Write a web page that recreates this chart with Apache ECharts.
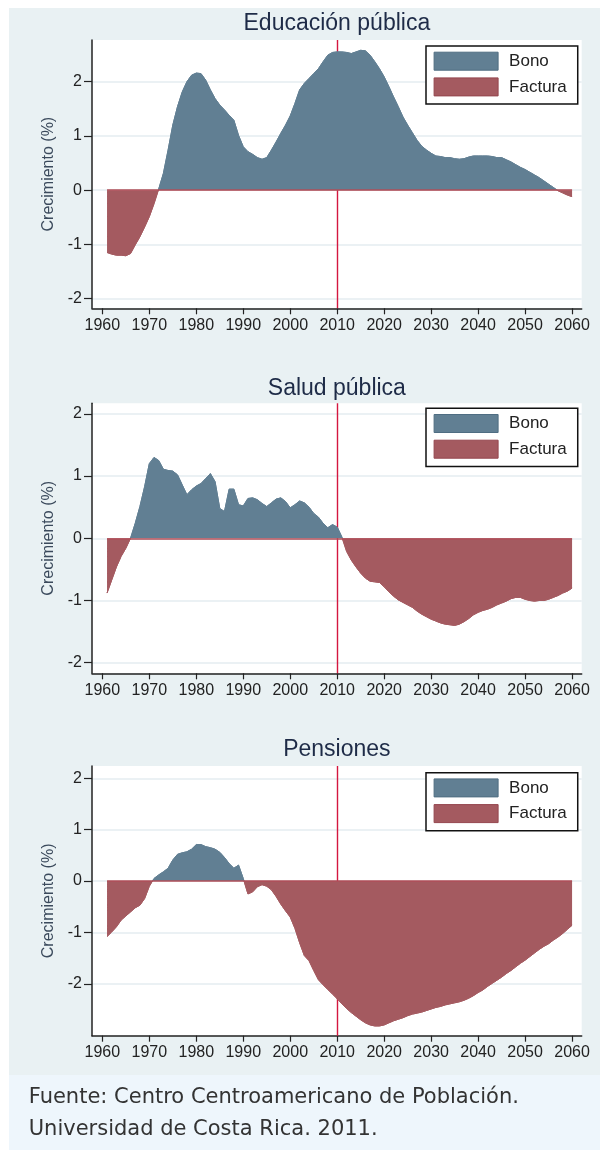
<!DOCTYPE html>
<html>
<head>
<meta charset="utf-8">
<script src="https://cdn.jsdelivr.net/npm/echarts@6/dist/echarts.min.js"></script>
<style>
html,body{margin:0;padding:0;background:#ffffff;}
#chart{width:600px;height:1150px;}
</style>
</head>
<body>
<div id="chart"></div>
<script>
// ---------------- DATA ----------------
const years = [
  1961,1962,1963,1964,1965,1966,1967,1968,1969,1970,
  1971,1972,1973,1974,1975,1976,1977,1978,1979,1980,
  1981,1982,1983,1984,1985,1986,1987,1988,1989,1990,
  1991,1992,1993,1994,1995,1996,1997,1998,1999,2000,
  2001,2002,2003,2004,2005,2006,2007,2008,2009,2010,
  2011,2012,2013,2014,2015,2016,2017,2018,2019,2020,
  2021,2022,2023,2024,2025,2026,2027,2028,2029,2030,
  2031,2032,2033,2034,2035,2036,2037,2038,2039,2040,
  2041,2042,2043,2044,2045,2046,2047,2048,2049,2050,
  2051,2052,2053,2054,2055,2056,2057,2058,2059,2060
];

const educacionPublica = [
  -1.15,-1.18,-1.20,-1.20,-1.21,-1.17,-1.01,-0.86,-0.68,-0.49,
  -0.25,0.02,0.31,0.74,1.20,1.54,1.81,2.00,2.12,2.16,
  2.15,2.03,1.85,1.69,1.57,1.48,1.38,1.29,1.01,0.80,
  0.71,0.66,0.60,0.57,0.60,0.74,0.89,1.05,1.20,1.37,
  1.60,1.85,1.97,2.06,2.15,2.24,2.37,2.49,2.54,2.55,
  2.55,2.54,2.52,2.55,2.58,2.57,2.49,2.37,2.24,2.09,
  1.91,1.72,1.54,1.35,1.20,1.06,0.92,0.81,0.74,0.68,
  0.63,0.62,0.60,0.60,0.58,0.57,0.58,0.61,0.63,0.63,
  0.63,0.63,0.62,0.60,0.60,0.56,0.52,0.47,0.42,0.38,
  0.33,0.28,0.23,0.17,0.11,0.05,-0.01,-0.05,-0.09,-0.12
];

const saludPublica = [
  -0.88,-0.67,-0.46,-0.29,-0.16,0.00,0.24,0.51,0.83,1.20,
  1.30,1.25,1.11,1.09,1.08,1.02,0.86,0.70,0.78,0.84,
  0.88,0.96,1.04,0.91,0.48,0.43,0.79,0.79,0.54,0.52,
  0.64,0.65,0.62,0.56,0.51,0.57,0.63,0.65,0.59,0.49,
  0.54,0.60,0.57,0.50,0.40,0.34,0.24,0.17,0.22,0.18,
  0.02,-0.21,-0.35,-0.46,-0.56,-0.64,-0.69,-0.70,-0.71,-0.78,
  -0.86,-0.93,-0.99,-1.03,-1.07,-1.11,-1.17,-1.22,-1.26,-1.30,
  -1.33,-1.36,-1.38,-1.39,-1.40,-1.38,-1.34,-1.29,-1.23,-1.19,
  -1.16,-1.14,-1.11,-1.07,-1.04,-1.01,-0.97,-0.95,-0.95,-0.98,
  -1.00,-1.01,-1.00,-1.00,-0.98,-0.95,-0.92,-0.88,-0.85,-0.80
];

const pensiones = [
  -1.08,-0.99,-0.89,-0.76,-0.68,-0.60,-0.52,-0.47,-0.34,-0.10,
  0.05,0.12,0.18,0.25,0.41,0.52,0.55,0.57,0.62,0.71,
  0.71,0.67,0.65,0.62,0.56,0.46,0.34,0.25,0.31,0.05,
  -0.25,-0.21,-0.11,-0.07,-0.10,-0.17,-0.30,-0.45,-0.58,-0.70,
  -0.92,-1.20,-1.45,-1.55,-1.74,-1.92,-2.02,-2.11,-2.20,-2.29,
  -2.39,-2.48,-2.56,-2.63,-2.70,-2.76,-2.80,-2.82,-2.82,-2.80,
  -2.76,-2.72,-2.69,-2.66,-2.62,-2.59,-2.57,-2.55,-2.52,-2.49,
  -2.46,-2.44,-2.41,-2.39,-2.37,-2.35,-2.32,-2.28,-2.23,-2.17,
  -2.12,-2.05,-1.99,-1.93,-1.87,-1.80,-1.74,-1.67,-1.60,-1.54,
  -1.47,-1.40,-1.33,-1.27,-1.22,-1.15,-1.09,-1.02,-0.94,-0.86
];

const panelTitles = ['Educación pública', 'Salud pública', 'Pensiones'];
const legendNames = ['Bono', 'Factura'];
const xTickValues = [1960,1970,1980,1990,2000,2010,2020,2030,2040,2050,2060];
const yTickValues = [-2,-1,0,1,2];
const yAxisTitle = 'Crecimiento (%)';
const referenceYear = 2010;
const footerLines = ['Fuente: Centro Centroamericano de Población.', 'Universidad de Costa Rica. 2011.'];

// ---------------- STYLE / LAYOUT ----------------
const BONO = '#617f93';
const BONO_EDGE = '#4f6d82';
const FACTURA = '#a45a60';
const FACTURA_EDGE = '#94464e';
const REFLINE = '#d4173f';
const ZEROLINE = '#b04e58';
const AXIS = '#222222';
const GRIDLINE = '#e4edf0';
const FONT = '"Liberation Sans", Arial, sans-serif';

const panelValues = [educacionPublica, saludPublica, pensiones];
const layout = [
  {top: 40,    height: 268.3, yMin: -2.18, yMax: 2.77, titleY: 24,    legendTop: 46},
  {top: 403.3, height: 270,   yMin: -2.17, yMax: 2.17, titleY: 388.3, legendTop: 408.3},
  {top: 766,   height: 269.7, yMin: -3.01, yMax: 2.24, titleY: 750,   legendTop: 772.7}
];
const gridLeft = 92, gridRight = 18.3;
const xMin = 1957.8, xMax = 2062.05;

const grids = [], xAxes = [], yAxes = [], series = [], legends = [], graphics = [];
const mainSeriesIndex = [];

graphics.push({type:'rect', shape:{x:0, y:0, width:9, height:1150}, style:{fill:'#ffffff'}, silent:true});
graphics.push({type:'rect', shape:{x:0, y:0, width:600, height:8}, style:{fill:'#ffffff'}, silent:true});
graphics.push({type:'rect', shape:{x:9, y:1075, width:591, height:75}, style:{fill:'#eef6fc'}, silent:true});

layout.forEach((p, i) => {
  grids.push({left: gridLeft, right: gridRight, top: p.top, height: p.height,
    show: true, backgroundColor: '#ffffff', borderWidth: 0, containLabel: false});

  xAxes.push({
    gridIndex: i, type: 'value', min: xMin, max: xMax,
    axisLine: {show: true, onZero: false, lineStyle: {color: AXIS, width: 1.5}},
    axisTick: {show: true, customValues: xTickValues, length: 6, lineStyle: {color: AXIS, width: 1.2}},
    axisLabel: {show: true, customValues: xTickValues, fontSize: 16, color: AXIS, margin: 9, fontFamily: FONT,
      formatter: v => String(v)},
    splitLine: {show: false}
  });

  yAxes.push({
    gridIndex: i, type: 'value', min: p.yMin, max: p.yMax,
    name: yAxisTitle, nameLocation: 'middle', nameGap: 24,
    nameTextStyle: {fontSize: 16, color: '#3b4a5c', fontFamily: FONT},
    axisLine: {show: true, onZero: false, lineStyle: {color: AXIS, width: 1.5}},
    axisTick: {show: true, customValues: yTickValues, length: 8, lineStyle: {color: AXIS, width: 1.2}},
    axisLabel: {show: true, customValues: yTickValues, fontSize: 16, color: AXIS, margin: 10, fontFamily: FONT,
      formatter: v => String(v)},
    splitLine: {show: true, lineStyle: {color: GRIDLINE, width: 1.5}}
  });

  mainSeriesIndex.push(series.length);
  const vals = panelValues[i];
  series.push({
    type: 'line', name: panelTitles[i], xAxisIndex: i, yAxisIndex: i,
    data: years.map((y, k) => [y, vals[k]]),
    symbol: 'none', showSymbol: false, silent: true, animation: false,
    lineStyle: {width: 1, color: BONO}, areaStyle: {opacity: 1, color: BONO}, z: 2,
    markLine: {
      silent: true, symbol: 'none', animation: false, label: {show: false},
      lineStyle: {color: ZEROLINE, width: 1.5, type: 'solid'},
      data: [[{coord: [years[0], 0]}, {coord: [years[years.length - 1], 0]}]]
    }
  });

  series.push({
    type: 'line', name: legendNames[0], xAxisIndex: i, yAxisIndex: i, data: [],
    color: BONO, symbol: 'none', animation: false,
    markLine: {
      silent: true, symbol: 'none', animation: false, z: 1, label: {show: false},
      lineStyle: {color: REFLINE, width: 1.4, type: 'solid'},
      data: [{xAxis: referenceYear}]
    }
  });
  series.push({
    type: 'line', name: legendNames[1], xAxisIndex: i, yAxisIndex: i, data: [],
    color: FACTURA, symbol: 'none', animation: false
  });

  legends.push({
    orient: 'vertical', left: 426, top: p.legendTop,
    padding: [5.7, 11, 7.7, 7.6], itemWidth: 64, itemHeight: 18, itemGap: 6.7,
    icon: 'rect', backgroundColor: '#ffffff', borderColor: '#111111', borderWidth: 1.5, borderRadius: 0,
    selectedMode: false,
    textStyle: {fontSize: 17, color: AXIS, fontFamily: FONT, padding: [0, 0, 0, 6]},
    data: [
      {name: legendNames[0], itemStyle: {color: BONO, borderColor: BONO_EDGE, borderWidth: 1}},
      {name: legendNames[1], itemStyle: {color: FACTURA, borderColor: FACTURA_EDGE, borderWidth: 1}}
    ]
  });

  graphics.push({
    type: 'text', silent: true,
    style: {text: panelTitles[i], x: (gridLeft + 600 - gridRight) / 2, y: p.titleY,
      font: '23px ' + FONT, fill: '#1e2b47',
      align: 'center', verticalAlign: 'middle', textAlign: 'center', textVerticalAlign: 'middle'}
  });
});

footerLines.forEach((t, k) => {
  graphics.push({
    type: 'text', silent: true,
    style: {text: t, x: 28.7, y: 1098 + k * 32, font: '21px "DejaVu Sans", sans-serif', fill: '#333333',
      align: 'left', verticalAlign: 'middle', textAlign: 'left', textVerticalAlign: 'middle'}
  });
});

const chart = echarts.init(document.getElementById('chart'), null, {renderer: 'canvas'});
chart.setOption({
  backgroundColor: '#e9f1f3',
  animation: false,
  grid: grids,
  xAxis: xAxes,
  yAxis: yAxes,
  legend: legends,
  series: series,
  graphic: graphics
});

// Split the area colour at the zero level of each panel's own y scale
const seriesUpdate = series.map(() => ({}));
layout.forEach((p, i) => {
  const finder = {xAxisIndex: i, yAxisIndex: i};
  const topPx = chart.convertToPixel(finder, [2000, p.yMax])[1];
  const botPx = chart.convertToPixel(finder, [2000, p.yMin])[1];
  const zeroPx = chart.convertToPixel(finder, [2000, 0])[1];
  const f = (zeroPx - topPx) / (botPx - topPx);
  const grad = () => ({
    type: 'linear', x: 0, y: topPx, x2: 0, y2: botPx, global: true,
    colorStops: [
      {offset: 0, color: BONO}, {offset: f, color: BONO},
      {offset: f, color: FACTURA}, {offset: 1, color: FACTURA}
    ]
  });
  seriesUpdate[mainSeriesIndex[i]] = {lineStyle: {color: grad()}, areaStyle: {color: grad()}};
});
chart.setOption({series: seriesUpdate});
</script>
</body>
</html>
